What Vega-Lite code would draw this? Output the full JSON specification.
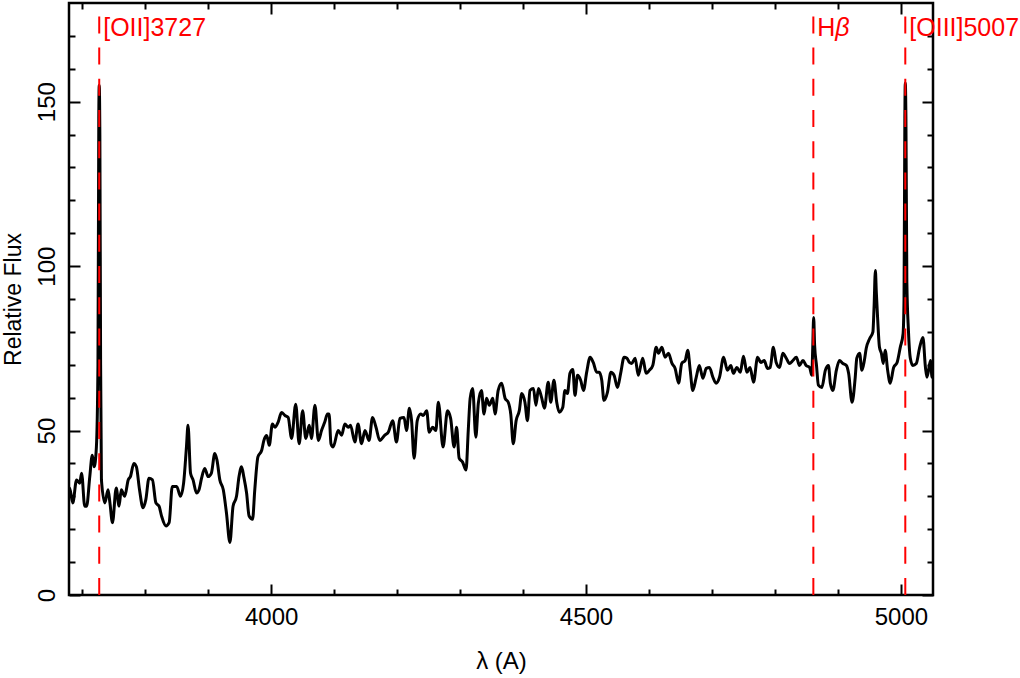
{
  "$schema": "https://vega.github.io/schema/vega-lite/v6.json",
  "width": 864,
  "height": 592,
  "autosize": {"type": "none"},
  "padding": {"left": 69, "top": 3, "right": 87, "bottom": 83},
  "background": "white",
  "config": {
    "view": {"stroke": "black", "strokeWidth": 2.5},
    "axis": {"grid": false, "domain": false, "labelOverlap": false, "labelFlush": false, "tickColor": "black", "tickWidth": 2, "labelColor": "black", "titleColor": "black", "labelFont": "Liberation Sans", "titleFont": "Liberation Sans", "titleFontWeight": "normal"}
  },
  "datasets": {
    "spectrum": [
      {"w": 3676, "f": 32}, {"w": 3680, "f": 32.5}, {"w": 3685, "f": 28}, {"w": 3691, "f": 35}, {"w": 3696, "f": 34}, {"w": 3699, "f": 37}, {"w": 3704, "f": 27}, {"w": 3707, "f": 27}, {"w": 3712, "f": 36}, {"w": 3716, "f": 42.5}, {"w": 3719, "f": 39}, {"w": 3722.5, "f": 45}, {"w": 3725, "f": 70}, {"w": 3726.3, "f": 145}, {"w": 3727, "f": 155}, {"w": 3728, "f": 140}, {"w": 3729.2, "f": 70}, {"w": 3730.5, "f": 35},
      {"w": 3736, "f": 28}, {"w": 3741, "f": 32}, {"w": 3744, "f": 28}, {"w": 3748, "f": 22}, {"w": 3754, "f": 32.5}, {"w": 3758.5, "f": 27}, {"w": 3762, "f": 32}, {"w": 3767.5, "f": 30}, {"w": 3773, "f": 35}, {"w": 3776.5, "f": 36}, {"w": 3782, "f": 40}, {"w": 3786, "f": 39}, {"w": 3791, "f": 32}, {"w": 3796.5, "f": 26.5}, {"w": 3801, "f": 29}, {"w": 3806, "f": 35.5}, {"w": 3811.5, "f": 35}, {"w": 3817, "f": 28}, {"w": 3822, "f": 27}, {"w": 3826, "f": 24}, {"w": 3833, "f": 21}, {"w": 3838, "f": 22}, {"w": 3843, "f": 33}, {"w": 3850, "f": 33}, {"w": 3856, "f": 30}, {"w": 3861, "f": 34}, {"w": 3865.5, "f": 45}, {"w": 3868, "f": 51.6}, {"w": 3872, "f": 37}, {"w": 3876, "f": 35}, {"w": 3881.5, "f": 31}, {"w": 3885.5, "f": 32}, {"w": 3889.5, "f": 35.5}, {"w": 3894.5, "f": 38.5}, {"w": 3900, "f": 36}, {"w": 3905, "f": 37}, {"w": 3910.5, "f": 43}, {"w": 3914, "f": 41}, {"w": 3918.5, "f": 35}, {"w": 3924, "f": 32}, {"w": 3929, "f": 25}, {"w": 3934.5, "f": 16}, {"w": 3939.5, "f": 27}, {"w": 3945, "f": 30}, {"w": 3949, "f": 36}, {"w": 3953, "f": 39}, {"w": 3956.5, "f": 36}, {"w": 3961, "f": 31}, {"w": 3965, "f": 24}, {"w": 3970.5, "f": 23}, {"w": 3974, "f": 32}, {"w": 3979, "f": 42}, {"w": 3985, "f": 44}, {"w": 3988.5, "f": 47}, {"w": 3993, "f": 48.5}, {"w": 3997, "f": 45.5},
      {"w": 4002, "f": 52}, {"w": 4006, "f": 51}, {"w": 4011, "f": 52.5}, {"w": 4016.5, "f": 55.5}, {"w": 4022, "f": 54.6}, {"w": 4027, "f": 54}, {"w": 4032.5, "f": 47.6}, {"w": 4039, "f": 58}, {"w": 4044.5, "f": 46}, {"w": 4050, "f": 56}, {"w": 4055, "f": 47.6}, {"w": 4060.5, "f": 51.6}, {"w": 4064, "f": 47.6}, {"w": 4069.5, "f": 57.7}, {"w": 4075, "f": 47}, {"w": 4080, "f": 50}, {"w": 4085, "f": 52.5}, {"w": 4089.5, "f": 55}, {"w": 4092, "f": 55}, {"w": 4095, "f": 46}, {"w": 4098.5, "f": 45}, {"w": 4106.5, "f": 50}, {"w": 4112, "f": 48.6}, {"w": 4117, "f": 52}, {"w": 4122.5, "f": 51}, {"w": 4126, "f": 51.6}, {"w": 4133, "f": 46.5}, {"w": 4138, "f": 52}, {"w": 4143.5, "f": 46}, {"w": 4149, "f": 50}, {"w": 4155.5, "f": 47}, {"w": 4161, "f": 54}, {"w": 4166.5, "f": 51}, {"w": 4172.5, "f": 47}, {"w": 4180.5, "f": 48.6}, {"w": 4186, "f": 49.5}, {"w": 4193, "f": 53}, {"w": 4199, "f": 46.5},
      {"w": 4204.5, "f": 53.7}, {"w": 4211, "f": 54}, {"w": 4215, "f": 50}, {"w": 4219.5, "f": 56.8}, {"w": 4223, "f": 53}, {"w": 4227, "f": 41.6}, {"w": 4232, "f": 53}, {"w": 4237.5, "f": 55}, {"w": 4241.5, "f": 54.6}, {"w": 4247, "f": 56}, {"w": 4251, "f": 49.5}, {"w": 4256.5, "f": 51}, {"w": 4261.5, "f": 50}, {"w": 4265.5, "f": 58.6}, {"w": 4273, "f": 45}, {"w": 4280, "f": 56}, {"w": 4285, "f": 53.7}, {"w": 4290.5, "f": 45}, {"w": 4294.5, "f": 51}, {"w": 4298.5, "f": 41.6}, {"w": 4304, "f": 40.4}, {"w": 4309.5, "f": 38}, {"w": 4313, "f": 50}, {"w": 4316, "f": 59.8}, {"w": 4320, "f": 62.8}, {"w": 4325, "f": 48}, {"w": 4329, "f": 58.3}, {"w": 4334, "f": 62.2}, {"w": 4338, "f": 55}, {"w": 4342, "f": 59.8}, {"w": 4346.5, "f": 57.7}, {"w": 4352, "f": 59.8}, {"w": 4355.5, "f": 55}, {"w": 4360.5, "f": 62.2}, {"w": 4366, "f": 64.4}, {"w": 4371.5, "f": 59.8}, {"w": 4376.5, "f": 58.6}, {"w": 4380.5, "f": 55}, {"w": 4384.5, "f": 46}, {"w": 4389, "f": 53}, {"w": 4394, "f": 56}, {"w": 4398, "f": 61.3},
      {"w": 4403, "f": 58.6}, {"w": 4407, "f": 53}, {"w": 4411, "f": 62.2}, {"w": 4416.5, "f": 62.8}, {"w": 4420.5, "f": 57.7}, {"w": 4424.5, "f": 62.8}, {"w": 4429.5, "f": 60}, {"w": 4434, "f": 56.8}, {"w": 4440, "f": 64.7}, {"w": 4444, "f": 58.6}, {"w": 4449, "f": 65.3}, {"w": 4453.5, "f": 58.6}, {"w": 4457.5, "f": 55.6}, {"w": 4463, "f": 57}, {"w": 4466.5, "f": 62.2}, {"w": 4470.5, "f": 61.3}, {"w": 4474.5, "f": 67.4}, {"w": 4479, "f": 68.6}, {"w": 4482.5, "f": 60.7}, {"w": 4486.5, "f": 66.8}, {"w": 4491.5, "f": 65.3}, {"w": 4496, "f": 62.2}, {"w": 4501, "f": 67.7}, {"w": 4506.5, "f": 72.3}, {"w": 4511.5, "f": 70.7}, {"w": 4517, "f": 67.7}, {"w": 4521, "f": 67.7}, {"w": 4525, "f": 65.3}, {"w": 4528.5, "f": 59.2}, {"w": 4534, "f": 61.6}, {"w": 4539.5, "f": 67.7}, {"w": 4544.5, "f": 66.8}, {"w": 4550, "f": 63.1}, {"w": 4555, "f": 67.4}, {"w": 4560.5, "f": 72.3}, {"w": 4565, "f": 72}, {"w": 4569, "f": 70.7}, {"w": 4572.5, "f": 70.4}, {"w": 4578, "f": 72}, {"w": 4583, "f": 66.8}, {"w": 4590, "f": 72}, {"w": 4595.5, "f": 67.4},
      {"w": 4600.5, "f": 68.3}, {"w": 4606, "f": 69.8}, {"w": 4611.5, "f": 75.3}, {"w": 4615, "f": 73.5}, {"w": 4620.5, "f": 75.3}, {"w": 4625.5, "f": 72.3}, {"w": 4631, "f": 73.5}, {"w": 4636.5, "f": 70.4}, {"w": 4641.5, "f": 68.9}, {"w": 4647, "f": 64.4}, {"w": 4652, "f": 70.4}, {"w": 4657.5, "f": 71.3}, {"w": 4661.5, "f": 74.4}, {"w": 4665.5, "f": 68.3}, {"w": 4669.5, "f": 62.2}, {"w": 4675, "f": 66.2}, {"w": 4680, "f": 69.8}, {"w": 4685.5, "f": 65.9}, {"w": 4691, "f": 68.9}, {"w": 4696, "f": 69.2}, {"w": 4701.5, "f": 66.2}, {"w": 4706.5, "f": 64.4}, {"w": 4712, "f": 66.2}, {"w": 4718.5, "f": 72.3}, {"w": 4724.5, "f": 68.3}, {"w": 4730, "f": 69.8}, {"w": 4734, "f": 67.4}, {"w": 4739.5, "f": 69.2}, {"w": 4745, "f": 67.7}, {"w": 4750, "f": 72.6}, {"w": 4755.5, "f": 67.7}, {"w": 4760.5, "f": 69.2}, {"w": 4766, "f": 64.7}, {"w": 4772.5, "f": 72.3}, {"w": 4777.5, "f": 70.7}, {"w": 4783, "f": 71.3}, {"w": 4788, "f": 68.9}, {"w": 4792.5, "f": 69.2}, {"w": 4797.5, "f": 75.3},
      {"w": 4802, "f": 70.7}, {"w": 4807.5, "f": 69.2}, {"w": 4812.5, "f": 73.5}, {"w": 4818, "f": 72}, {"w": 4823, "f": 70.4}, {"w": 4828.5, "f": 71.3}, {"w": 4834, "f": 72.3}, {"w": 4839, "f": 69.8}, {"w": 4844.5, "f": 71.3}, {"w": 4849.5, "f": 69.8}, {"w": 4855, "f": 69.2}, {"w": 4858.5, "f": 66.8}, {"w": 4860, "f": 75}, {"w": 4861.5, "f": 84.4}, {"w": 4863, "f": 76}, {"w": 4866, "f": 69.8}, {"w": 4869, "f": 63.8}, {"w": 4874.5, "f": 63.1}, {"w": 4880, "f": 68.3}, {"w": 4885, "f": 69.8}, {"w": 4888, "f": 64.4}, {"w": 4892, "f": 62.2}, {"w": 4897.5, "f": 68.3}, {"w": 4902.5, "f": 71.3}, {"w": 4908, "f": 70.4}, {"w": 4913.5, "f": 69.8}, {"w": 4917, "f": 67.4}, {"w": 4922.5, "f": 58.6}, {"w": 4927.5, "f": 66.2}, {"w": 4930, "f": 72}, {"w": 4934.5, "f": 73.5}, {"w": 4938, "f": 68.3}, {"w": 4942, "f": 71.3}, {"w": 4945, "f": 75}, {"w": 4950.5, "f": 78}, {"w": 4955.5, "f": 79.9}, {"w": 4957.5, "f": 88}, {"w": 4959.5, "f": 98.7}, {"w": 4961, "f": 92}, {"w": 4963, "f": 84.4}, {"w": 4966, "f": 75.3}, {"w": 4969, "f": 73.5}, {"w": 4972, "f": 70.4}, {"w": 4975, "f": 74.4}, {"w": 4979, "f": 68.3}, {"w": 4983, "f": 64.4}, {"w": 4988.5, "f": 69.2}, {"w": 4994, "f": 70.7}, {"w": 4999, "f": 75.3},
      {"w": 5003.5, "f": 79.5}, {"w": 5005, "f": 90}, {"w": 5006.3, "f": 145}, {"w": 5007, "f": 155.7}, {"w": 5008, "f": 145}, {"w": 5009.5, "f": 95}, {"w": 5012, "f": 80.4}, {"w": 5015, "f": 72}, {"w": 5019, "f": 69.8}, {"w": 5024.5, "f": 70.4}, {"w": 5029.5, "f": 75}, {"w": 5035, "f": 78.3}, {"w": 5039, "f": 69.2}, {"w": 5041.5, "f": 66.2}, {"w": 5047, "f": 71.3}, {"w": 5049.5, "f": 66.2}, {"w": 5052, "f": 69.8}, {"w": 5055, "f": 69.5}
    ],
    "lines": [
      {"wave": 3727, "label": "[OII]3727", "greek": ""},
      {"wave": 4861, "label": "H", "greek": "β"},
      {"wave": 5007, "label": "[OIII]5007", "greek": ""}
    ]
  },
  "resolve": {"axis": {"x": "independent", "y": "independent"}},
  "layer": [
    {
      "data": {"name": "spectrum"},
      "mark": {"type": "line", "color": "black", "strokeWidth": 3, "clip": true, "strokeJoin": "round", "interpolate": "monotone"},
      "encoding": {
        "x": {
          "field": "w", "type": "quantitative",
          "scale": {"domain": [3679, 5051], "nice": false, "zero": false},
          "axis": {
            "orient": "bottom",
            "values": [3700, 3800, 3900, 4000, 4100, 4200, 4300, 4400, 4500, 4600, 4700, 4800, 4900, 5000],
            "format": "d",
            "labelExpr": "datum.value % 500 === 0 ? datum.label : ''",
            "tickSize": {"condition": {"test": "datum.value % 500 === 0", "value": -11}, "value": -6},
            "labelFontSize": 24,
            "labelPadding": 21,
            "title": "λ (A)",
            "titleFontSize": 24,
            "titlePadding": 15
          }
        },
        "y": {
          "field": "f", "type": "quantitative",
          "scale": {"domain": [0, 180], "nice": false, "zero": false},
          "axis": {
            "orient": "left",
            "values": [0, 10, 20, 30, 40, 50, 60, 70, 80, 90, 100, 110, 120, 130, 140, 150, 160, 170],
            "format": "d",
            "labelExpr": "datum.value % 50 === 0 ? datum.label : ''",
            "tickSize": {"condition": {"test": "datum.value % 50 === 0", "value": -11}, "value": -6},
            "labelAngle": -90,
            "labelAlign": "center",
            "labelBaseline": "alphabetic",
            "labelFontSize": 24,
            "labelPadding": 26,
            "title": "Relative Flux",
            "titleFontSize": 23,
            "titlePadding": 5
          }
        }
      }
    },
    {
      "data": {"name": "lines"},
      "mark": {"type": "rule", "color": "#ff0000", "strokeWidth": 2, "strokeDash": [17, 14.2]},
      "encoding": {
        "x": {
          "field": "wave", "type": "quantitative",
          "axis": {
            "orient": "top",
            "values": [3700, 3800, 3900, 4000, 4100, 4200, 4300, 4400, 4500, 4600, 4700, 4800, 4900, 5000],
            "labels": false,
            "tickSize": {"condition": {"test": "datum.value % 500 === 0", "value": -11}, "value": -6},
            "title": null
          }
        },
        "y": {
          "datum": 0, "type": "quantitative",
          "axis": {
            "orient": "right",
            "values": [0, 10, 20, 30, 40, 50, 60, 70, 80, 90, 100, 110, 120, 130, 140, 150, 160, 170],
            "labels": false,
            "tickSize": {"condition": {"test": "datum.value % 50 === 0", "value": -11}, "value": -6},
            "title": null
          }
        },
        "y2": {"datum": 180}
      }
    },
    {
      "data": {"name": "lines"},
      "mark": {"type": "text", "align": "left", "baseline": "alphabetic", "dx": 4, "color": "#ff0000", "font": "Liberation Sans", "fontSize": 25},
      "encoding": {
        "x": {"field": "wave", "type": "quantitative", "axis": null},
        "y": {"datum": 170, "type": "quantitative", "axis": null},
        "text": {"field": "label"}
      }
    },
    {
      "data": {"name": "lines"},
      "transform": [{"filter": "datum.greek != ''"}],
      "mark": {"type": "text", "align": "left", "baseline": "alphabetic", "dx": 22, "color": "#ff0000", "font": "Liberation Sans", "fontSize": 25, "fontStyle": "italic"},
      "encoding": {
        "x": {"field": "wave", "type": "quantitative", "axis": null},
        "y": {"datum": 170, "type": "quantitative", "axis": null},
        "text": {"field": "greek"}
      }
    }
  ]
}
